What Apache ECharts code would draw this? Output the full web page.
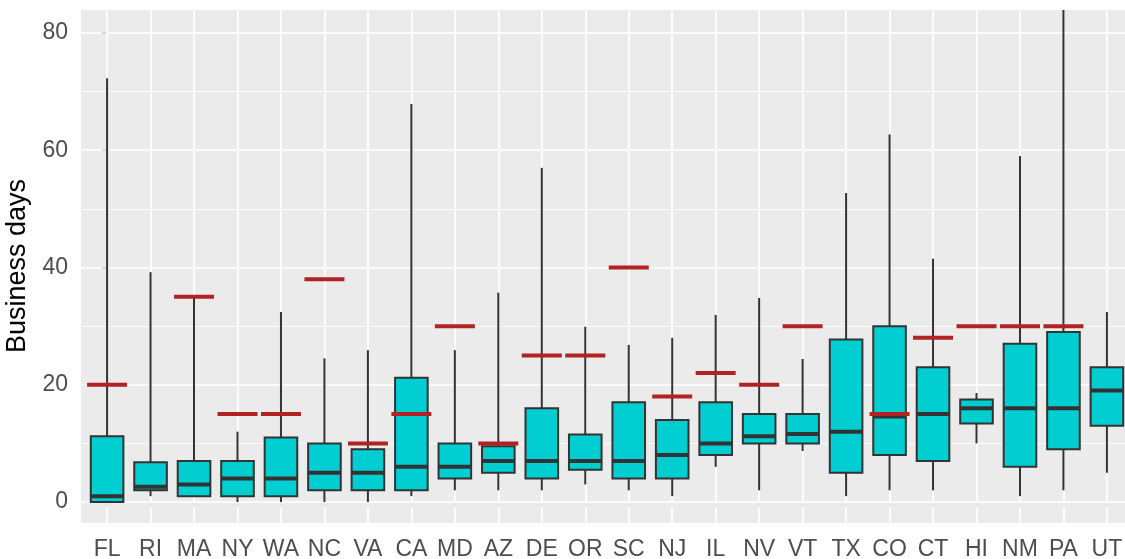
<html>
  <head>
    <script src="https://cdn.jsdelivr.net/npm/echarts@6.0.0/dist/echarts.min.js"></script>
    <title>Business days by state</title>
  </head>
  <body style="margin:0; background-color:#ffffff;">
    <div id="chart" style="width:1125px; height:559px;"></div>
    <script>
      const states = ['FL', 'RI', 'MA', 'NY', 'WA', 'NC', 'VA', 'CA', 'MD', 'AZ', 'DE', 'OR',
                      'SC', 'NJ', 'IL', 'NV', 'VT', 'TX', 'CO', 'CT', 'HI', 'NM', 'PA', 'UT'];
      const whiskerLow  = [0, 1, 1, 0, 0, 0, 0, 1, 2, 2, 2, 3, 2, 1, 6, 2, 8.7, 1, 2, 2, 10, 1, 2, 5];
      const q1          = [0, 2, 1, 1, 1, 2, 2, 2, 4, 5, 4, 5.5, 4, 4, 8, 10, 10, 5, 8, 7, 13.4, 6, 9, 13];
      const median      = [1, 2.6, 3, 4, 4, 5, 5, 6, 6, 7, 7, 7, 7, 8, 10, 11.2, 11.6, 12, 14.6, 15, 16, 16, 16, 19];
      const q3          = [11.2, 6.8, 7, 7, 11, 10, 9, 21.2, 10, 9.5, 16, 11.5, 17, 14, 17, 15, 15, 27.7, 30, 23, 17.5, 27, 29, 23];
      const whiskerHigh = [72.3, 39.2, 35, 12, 32.4, 24.5, 25.9, 67.9, 25.9, 35.7, 57, 29.9, 26.8, 28, 31.9, 34.8, 24.4, 52.7, 62.7, 41.5, 18.6, 59, 90, 32.4];
      const target      = [20, null, 35, 15, 15, 38, 10, 15, 30, 10, 25, 25, 40, 18, 22, 20, 30, null, 15, 28, 30, 30, 30, null];
      const yTicks = [0, 20, 40, 60, 80];
      const yMinor = [10, 30, 50, 70];

      const xIdx = states.map((s, i) => i);
      const boxData = states.map((s, i) => [i, whiskerLow[i], q1[i], median[i], q3[i], whiskerHigh[i]]);
      const targetData = [];
      target.forEach((t, i) => { if (t !== null) targetData.push([i, t]); });

      const dark = '#333333';
      const fill = '#00CED1';
      const red = '#B22222';

      function renderBox(params, api) {
        const i = api.value(0);
        const xc = api.coord([i, 0])[0];
        const w = api.size([1, 0])[0] * 0.75;
        const yLow = api.coord([i, api.value(1)])[1];
        const yQ1 = api.coord([i, api.value(2)])[1];
        const yMed = api.coord([i, api.value(3)])[1];
        const yQ3 = api.coord([i, api.value(4)])[1];
        const yHigh = api.coord([i, api.value(5)])[1];
        return {
          type: 'group',
          children: [
            { type: 'line', shape: { x1: xc, y1: yLow, x2: xc, y2: yQ1 }, style: { stroke: dark, lineWidth: 2 } },
            { type: 'line', shape: { x1: xc, y1: yQ3, x2: xc, y2: yHigh }, style: { stroke: dark, lineWidth: 2 } },
            { type: 'rect', shape: { x: xc - w / 2, y: yQ3, width: w, height: yQ1 - yQ3 }, style: { fill: fill, stroke: dark, lineWidth: 2 } },
            { type: 'line', shape: { x1: xc - w / 2, y1: yMed, x2: xc + w / 2, y2: yMed }, style: { stroke: dark, lineWidth: 4 } }
          ]
        };
      }

      function renderTarget(params, api) {
        const i = api.value(0);
        const p1 = api.coord([i - 0.46, api.value(1)]);
        const p2 = api.coord([i + 0.46, api.value(1)]);
        return {
          type: 'line',
          shape: { x1: p1[0], y1: p1[1], x2: p2[0], y2: p2[1] },
          style: { stroke: red, lineWidth: 4 }
        };
      }

      const gridLines = []
        .concat(yTicks.map(v => ({ yAxis: v, lineStyle: { width: 1.7 } })))
        .concat(yMinor.map(v => ({ yAxis: v, lineStyle: { width: 0.8 } })))
        .concat(xIdx.map(v => ({ xAxis: v, lineStyle: { width: 1.7 } })));

      const chart = echarts.init(document.getElementById('chart'));

      const option = {
        animation: false,
        backgroundColor: '#ffffff',
        grid: {
          left: 81,
          top: 10,
          width: 1052,
          height: 513,
          containLabel: false,
          outerBoundsMode: 'none',
          show: true,
          backgroundColor: '#EBEBEB',
          borderWidth: 0
        },
        // y axis title
        graphic: [{
          type: 'text',
          x: 18,
          y: 266,
          rotation: Math.PI / 2,
          style: {
            text: 'Business days',
            fontFamily: 'Liberation Sans',
            fontSize: 27,
            fill: '#000000',
            align: 'center',
            verticalAlign: 'middle'
          }
        }],
        xAxis: {
          type: 'value',
          min: -0.6,
          max: 23.6,
          axisLine: { show: false },
          splitLine: { show: false },
          axisTick: { show: true, length: 5, customValues: xIdx, lineStyle: { color: dark, width: 1.5 } },
          axisLabel: {
            customValues: xIdx,
            formatter: v => states[v],
            fontFamily: 'Liberation Sans',
            fontSize: 23,
            color: '#4D4D4D',
            margin: 7
          }
        },
        yAxis: {
          type: 'value',
          min: -3.58,
          max: 83.92,
          axisLine: { show: false },
          splitLine: { show: false },
          axisTick: { show: true, length: 5, customValues: yTicks, lineStyle: { color: dark, width: 1.5 } },
          axisLabel: {
            customValues: yTicks,
            fontFamily: 'Liberation Sans',
            fontSize: 23,
            color: '#4D4D4D',
            margin: 13
          }
        },
        series: [
          {
            type: 'line',
            data: [[0, 0]],
            symbol: 'none',
            lineStyle: { opacity: 0 },
            silent: true,
            z: 1,
            markLine: {
              z: 1,
              silent: true,
              symbol: ['none', 'none'],
              label: { show: false },
              lineStyle: { color: '#ffffff', type: 'solid' },
              emphasis: { disabled: true },
              data: gridLines
            }
          },
          {
            type: 'custom',
            renderItem: renderBox,
            clip: true,
            encode: { x: 0, y: [1, 2, 3, 4, 5] },
            data: boxData,
            z: 3
          },
          {
            type: 'custom',
            renderItem: renderTarget,
            clip: true,
            encode: { x: 0, y: 1 },
            data: targetData,
            z: 4
          }
        ]
      };

      chart.setOption(option);
    </script>
  </body>
</html>
